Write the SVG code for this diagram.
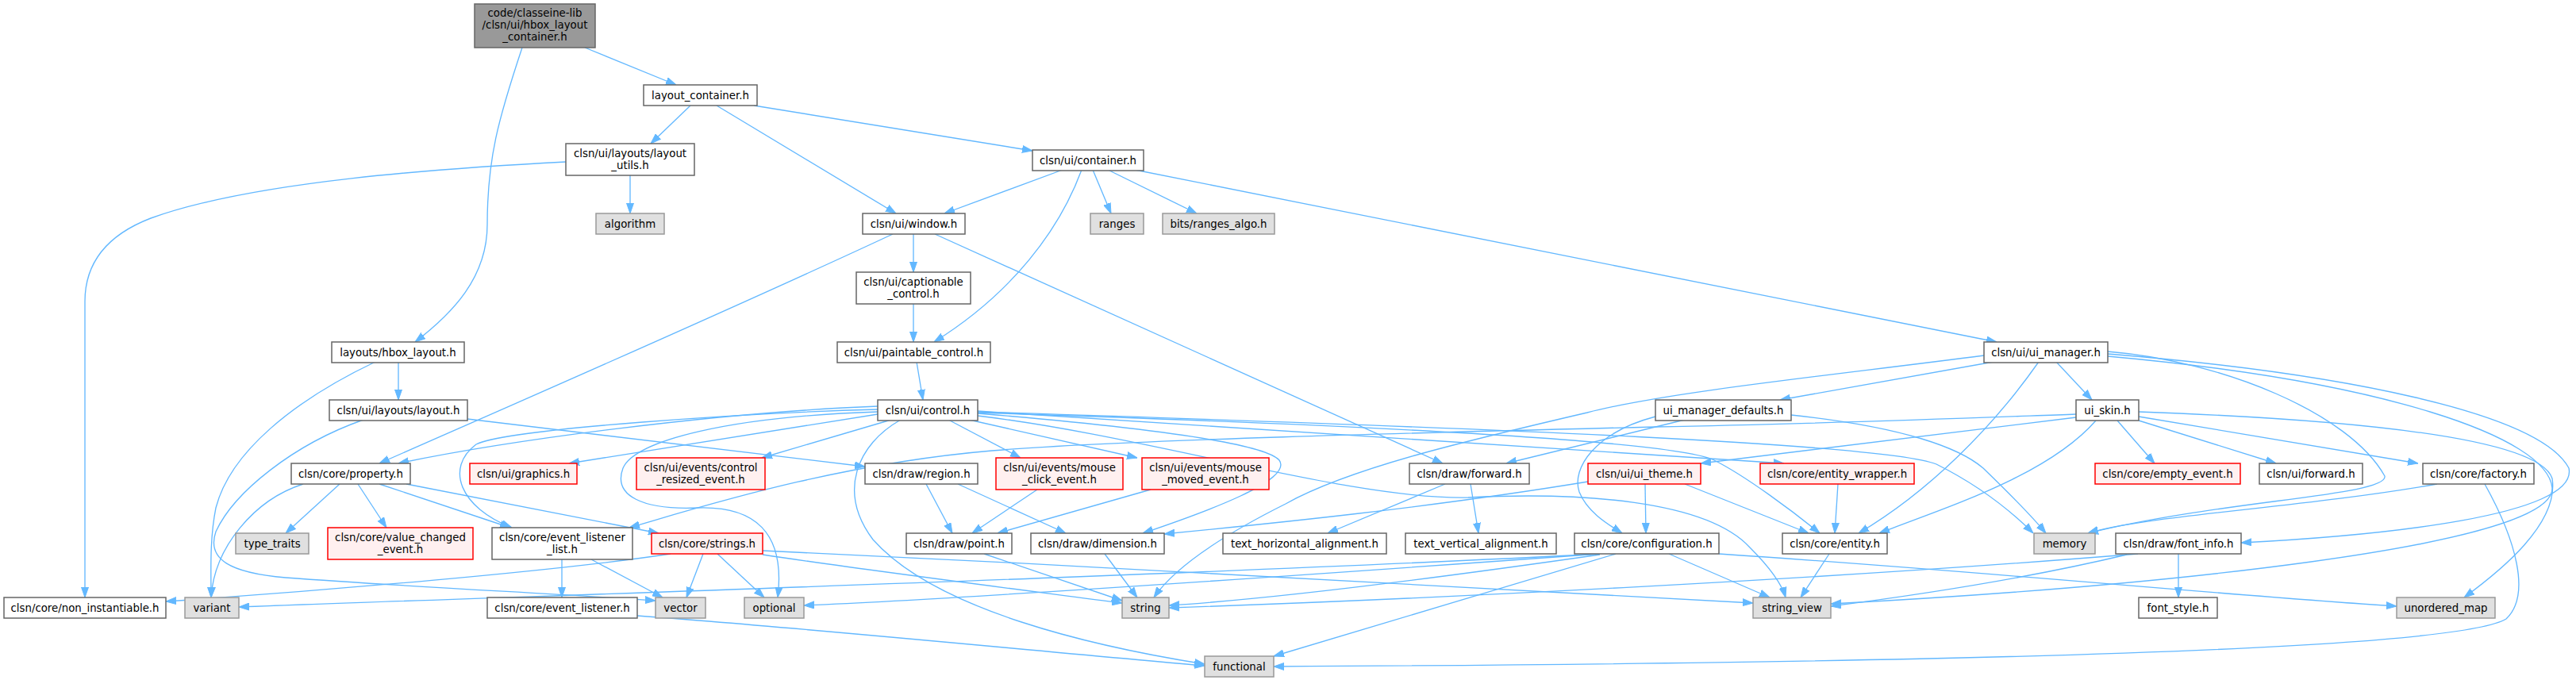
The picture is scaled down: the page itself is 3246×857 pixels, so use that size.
<svg xmlns="http://www.w3.org/2000/svg" width="3246" height="857" viewBox="0 0 3246 857">
<style>
.w rect{fill:#ffffff;stroke:#666666;stroke-width:1.5}
.g rect{fill:#e0e0e0;stroke:#999999;stroke-width:1.5}
.r rect{fill:#fff0f0;stroke:#ff0000;stroke-width:1.5}
.t rect{fill:#999999;stroke:#666666;stroke-width:1.5}
text{font-family:"DejaVu Sans",sans-serif;font-size:13.33px;text-anchor:middle;fill:#000000}
#edges path{fill:none;stroke:#63b8ff;stroke-width:1.33;marker-end:url(#ah)}
</style>
<defs>
<marker id="ah" viewBox="0 0 13 10" refX="13" refY="5" markerWidth="13" markerHeight="10" markerUnits="userSpaceOnUse" orient="auto">
<path d="M0,0.5 L13,5 L0,9.5 z" fill="#63b8ff" stroke="#63b8ff" stroke-width="1"/>
</marker>
</defs>
<rect width="3246" height="857" fill="#ffffff"/>
<g id="edges">
<path d="M737,60 L852,107"/>
<path d="M658,60 C628,150 614,200 614,283 C614,350 570,395 523,431"/>
<path d="M870,133 L820,181"/>
<path d="M903,133 L1129,269"/>
<path d="M950,133 L1301,190"/>
<path d="M794,221 L794,269"/>
<path d="M713,204 C560,212 320,228 190,275 C125,300 107,340 107,380 L107,753"/>
<path d="M1339,214 L1190,269"/>
<path d="M1363,214 C1335,290 1275,370 1177,431"/>
<path d="M1377,214 L1400,269"/>
<path d="M1396,214 L1508,269"/>
<path d="M1430,214 L2516,431"/>
<path d="M1151,295 L1151,343"/>
<path d="M1125,295 C900,400 600,530 478,584"/>
<path d="M1178,295 L1818,584"/>
<path d="M1151,383 L1151,431"/>
<path d="M1155,456 L1163,504"/>
<path d="M502,456 L502,504"/>
<path d="M473,456 C370,505 290,570 272,640 C264,680 266,720 266,753"/>
<path d="M458,529 C370,560 295,620 272,670 C260,705 290,722 360,728 C520,740 700,748 826,757"/>
<path d="M589,528 L1090,588"/>
<path d="M1106,512 C900,520 640,555 502,584"/>
<path d="M1106,516 C950,520 640,540 600,560 C560,590 580,640 645,665"/>
<path d="M1106,522 L717,584"/>
<path d="M1123,529 L960,577"/>
<path d="M1106,519 C920,525 800,555 785,590 C772,625 810,643 880,640 C950,638 990,670 980,753"/>
<path d="M1135,529 C1080,560 1055,620 1100,680 C1180,770 1380,815 1518,837"/>
<path d="M1195,529 L1286,577"/>
<path d="M1221,529 L1433,577"/>
<path d="M1232,521 C1400,535 1590,555 1612,580 C1630,605 1520,645 1440,672"/>
<path d="M1232,524 C1450,550 1700,630 1850,627 C1990,620 2150,630 2205,690 C2230,715 2245,735 2250,753"/>
<path d="M1232,518 L2248,584"/>
<path d="M1232,520 C1700,535 2110,555 2160,580 C2200,600 2260,645 2293,672"/>
<path d="M1232,519 C1900,540 2380,560 2440,585 C2500,615 2540,650 2562,672"/>
<path d="M2500,448 C2300,474 2100,494 2000,520 C1850,555 1700,590 1620,635 C1540,675 1480,715 1454,753"/>
<path d="M2512,456 L2243,504"/>
<path d="M2569,456 C2510,540 2430,620 2342,672"/>
<path d="M2591,456 L2636,504"/>
<path d="M2656,443 C2800,455 2960,520 3005,600 C3010,625 2800,630 2631,672"/>
<path d="M2656,446 C2950,470 3200,520 3237,590 C3250,650 3000,675 2824,684"/>
<path d="M2656,449 C3000,480 3210,550 3216,615 C3220,690 2700,740 2307,761"/>
<path d="M2616,522 C2450,528 2300,534 2086,538 C1800,545 1400,555 1250,568 C1050,585 880,640 793,665"/>
<path d="M2616,526 L2143,584"/>
<path d="M2695,519 C3000,530 3200,555 3216,603 C3225,660 3150,720 3105,753"/>
<path d="M2695,525 L3047,584"/>
<path d="M2695,530 L2868,584"/>
<path d="M2668,530 L2715,584"/>
<path d="M2641,530 C2580,600 2450,640 2368,672"/>
<path d="M2123,529 L1898,584"/>
<path d="M2086,525 C2010,545 1980,590 1990,620 C2000,645 2025,660 2044,672"/>
<path d="M2257,523 C2400,538 2470,565 2499,590 C2530,620 2560,650 2578,672"/>
<path d="M428,610 L360,672"/>
<path d="M451,610 L487,665"/>
<path d="M478,610 L643,665"/>
<path d="M382,610 C320,630 270,690 266,753"/>
<path d="M512,610 L830,672"/>
<path d="M708,705 L708,753"/>
<path d="M745,705 L835,753"/>
<path d="M845,698 C700,720 400,745 209,758"/>
<path d="M886,698 L865,753"/>
<path d="M904,698 L963,753"/>
<path d="M961,699 C1100,720 1300,745 1414,760"/>
<path d="M961,694 C1400,715 1900,740 2209,760"/>
<path d="M803,776 C1000,790 1300,820 1518,839"/>
<path d="M1167,610 L1200,672"/>
<path d="M1207,610 L1343,672"/>
<path d="M1307,617 L1225,672"/>
<path d="M1450,617 L1257,672"/>
<path d="M1240,698 L1414,757"/>
<path d="M1392,698 L1433,753"/>
<path d="M1821,610 L1673,672"/>
<path d="M1853,610 L1863,672"/>
<path d="M2001,607 C1800,640 1600,660 1467,673"/>
<path d="M2073,610 L2074,672"/>
<path d="M2123,610 L2279,672"/>
<path d="M2316,610 L2312,672"/>
<path d="M2305,698 L2269,753"/>
<path d="M2016,698 C1500,725 700,750 301,765"/>
<path d="M2016,698 C1600,728 1200,755 1013,763"/>
<path d="M2016,699 C1800,730 1600,755 1473,763"/>
<path d="M2036,698 L1605,827"/>
<path d="M2103,698 L2230,753"/>
<path d="M2166,698 C2500,720 2800,750 3020,764"/>
<path d="M2745,698 L2745,753"/>
<path d="M2694,698 C2300,730 1800,755 1473,766"/>
<path d="M2680,699 C2550,730 2400,752 2307,764"/>
<path d="M3071,610 C2900,640 2700,650 2631,672"/>
<path d="M3131,610 C3170,680 3190,750 3158,780 C3100,815 2600,835 1605,840"/>
</g>
<g id="n1" class="t"><rect x="598" y="5" width="152" height="55"/><text x="674" y="21">code/classeine-lib</text><text x="674" y="36">/clsn/ui/hbox_layout</text><text x="674" y="51">_container.h</text></g>
<g id="n2" class="w"><rect x="811" y="107" width="143" height="26"/><text x="882.5" y="124.5">layout_container.h</text></g>
<g id="n3" class="w"><rect x="713" y="181" width="162" height="40"/><text x="794" y="198">clsn/ui/layouts/layout</text><text x="794" y="212.5">_utils.h</text></g>
<g id="n4" class="w"><rect x="1301" y="189" width="140" height="26"/><text x="1371" y="206.5">clsn/ui/container.h</text></g>
<g id="n5" class="g"><rect x="751" y="269" width="86" height="26"/><text x="794" y="286.5">algorithm</text></g>
<g id="n6" class="w"><rect x="1087" y="269" width="129" height="26"/><text x="1151.5" y="286.5">clsn/ui/window.h</text></g>
<g id="n7" class="g"><rect x="1374" y="269" width="67" height="26"/><text x="1407.5" y="286.5">ranges</text></g>
<g id="n8" class="g"><rect x="1465" y="269" width="141" height="26"/><text x="1535.5" y="286.5">bits/ranges_algo.h</text></g>
<g id="n9" class="w"><rect x="1079" y="343" width="144" height="40"/><text x="1151" y="360">clsn/ui/captionable</text><text x="1151" y="374.5">_control.h</text></g>
<g id="n10" class="w"><rect x="418" y="431" width="167" height="26"/><text x="501.5" y="448.5">layouts/hbox_layout.h</text></g>
<g id="n11" class="w"><rect x="1055" y="431" width="193" height="26"/><text x="1151.5" y="448.5">clsn/ui/paintable_control.h</text></g>
<g id="n12" class="w"><rect x="2500" y="431" width="156" height="26"/><text x="2578" y="448.5">clsn/ui/ui_manager.h</text></g>
<g id="n13" class="w"><rect x="415" y="504" width="174" height="26"/><text x="502" y="521.5">clsn/ui/layouts/layout.h</text></g>
<g id="n14" class="w"><rect x="1106" y="504" width="126" height="26"/><text x="1169" y="521.5">clsn/ui/control.h</text></g>
<g id="n15" class="w"><rect x="2086" y="504" width="171" height="26"/><text x="2171.5" y="521.5">ui_manager_defaults.h</text></g>
<g id="n16" class="w"><rect x="2616" y="504" width="79" height="26"/><text x="2655.5" y="521.5">ui_skin.h</text></g>
<g id="n17" class="w"><rect x="367" y="584" width="150" height="26"/><text x="442" y="601.5">clsn/core/property.h</text></g>
<g id="n18" class="r"><rect x="592" y="584" width="135" height="26"/><text x="659.5" y="601.5">clsn/ui/graphics.h</text></g>
<g id="n19" class="r"><rect x="802" y="577" width="162" height="40"/><text x="883" y="594">clsn/ui/events/control</text><text x="883" y="608.5">_resized_event.h</text></g>
<g id="n20" class="w"><rect x="1090" y="584" width="142" height="26"/><text x="1161" y="601.5">clsn/draw/region.h</text></g>
<g id="n21" class="r"><rect x="1255" y="577" width="160" height="40"/><text x="1335" y="594">clsn/ui/events/mouse</text><text x="1335" y="608.5">_click_event.h</text></g>
<g id="n22" class="r"><rect x="1439" y="577" width="160" height="40"/><text x="1519" y="594">clsn/ui/events/mouse</text><text x="1519" y="608.5">_moved_event.h</text></g>
<g id="n23" class="w"><rect x="1776" y="584" width="151" height="26"/><text x="1851.5" y="601.5">clsn/draw/forward.h</text></g>
<g id="n24" class="r"><rect x="2001" y="584" width="142" height="26"/><text x="2072" y="601.5">clsn/ui/ui_theme.h</text></g>
<g id="n25" class="r"><rect x="2218" y="584" width="194" height="26"/><text x="2315" y="601.5">clsn/core/entity_wrapper.h</text></g>
<g id="n26" class="r"><rect x="2640" y="584" width="183" height="26"/><text x="2731.5" y="601.5">clsn/core/empty_event.h</text></g>
<g id="n27" class="w"><rect x="2847" y="584" width="130" height="26"/><text x="2912" y="601.5">clsn/ui/forward.h</text></g>
<g id="n28" class="w"><rect x="3053" y="584" width="140" height="26"/><text x="3123" y="601.5">clsn/core/factory.h</text></g>
<g id="n29" class="g"><rect x="297" y="672" width="92" height="26"/><text x="343" y="689.5">type_traits</text></g>
<g id="n30" class="r"><rect x="413" y="665" width="183" height="40"/><text x="504.5" y="682">clsn/core/value_changed</text><text x="504.5" y="696.5">_event.h</text></g>
<g id="n31" class="w"><rect x="620" y="665" width="177" height="40"/><text x="708.5" y="682">clsn/core/event_listener</text><text x="708.5" y="696.5">_list.h</text></g>
<g id="n32" class="r"><rect x="821" y="672" width="140" height="26"/><text x="891" y="689.5">clsn/core/strings.h</text></g>
<g id="n33" class="w"><rect x="1142" y="672" width="133" height="26"/><text x="1208.5" y="689.5">clsn/draw/point.h</text></g>
<g id="n34" class="w"><rect x="1299" y="672" width="168" height="26"/><text x="1383" y="689.5">clsn/draw/dimension.h</text></g>
<g id="n35" class="w"><rect x="1541" y="672" width="206" height="26"/><text x="1644" y="689.5">text_horizontal_alignment.h</text></g>
<g id="n36" class="w"><rect x="1771" y="672" width="190" height="26"/><text x="1866" y="689.5">text_vertical_alignment.h</text></g>
<g id="n37" class="w"><rect x="1984" y="672" width="182" height="26"/><text x="2075" y="689.5">clsn/core/configuration.h</text></g>
<g id="n38" class="w"><rect x="2246" y="672" width="132" height="26"/><text x="2312" y="689.5">clsn/core/entity.h</text></g>
<g id="n39" class="g"><rect x="2563" y="672" width="77" height="26"/><text x="2601.5" y="689.5">memory</text></g>
<g id="n40" class="w"><rect x="2666" y="672" width="158" height="26"/><text x="2745" y="689.5">clsn/draw/font_info.h</text></g>
<g id="n41" class="w"><rect x="5" y="753" width="204" height="26"/><text x="107" y="770.5">clsn/core/non_instantiable.h</text></g>
<g id="n42" class="g"><rect x="233" y="753" width="68" height="26"/><text x="267" y="770.5">variant</text></g>
<g id="n43" class="w"><rect x="614" y="753" width="189" height="26"/><text x="708.5" y="770.5">clsn/core/event_listener.h</text></g>
<g id="n44" class="g"><rect x="826" y="753" width="63" height="26"/><text x="857.5" y="770.5">vector</text></g>
<g id="n45" class="g"><rect x="938" y="753" width="75" height="26"/><text x="975.5" y="770.5">optional</text></g>
<g id="n46" class="g"><rect x="1414" y="753" width="59" height="26"/><text x="1443.5" y="770.5">string</text></g>
<g id="n47" class="g"><rect x="2209" y="753" width="98" height="26"/><text x="2258" y="770.5">string_view</text></g>
<g id="n48" class="w"><rect x="2695" y="753" width="99" height="26"/><text x="2744.5" y="770.5">font_style.h</text></g>
<g id="n49" class="g"><rect x="3020" y="753" width="124" height="26"/><text x="3082" y="770.5">unordered_map</text></g>
<g id="n50" class="g"><rect x="1518" y="827" width="87" height="26"/><text x="1561.5" y="844.5">functional</text></g>
</svg>
